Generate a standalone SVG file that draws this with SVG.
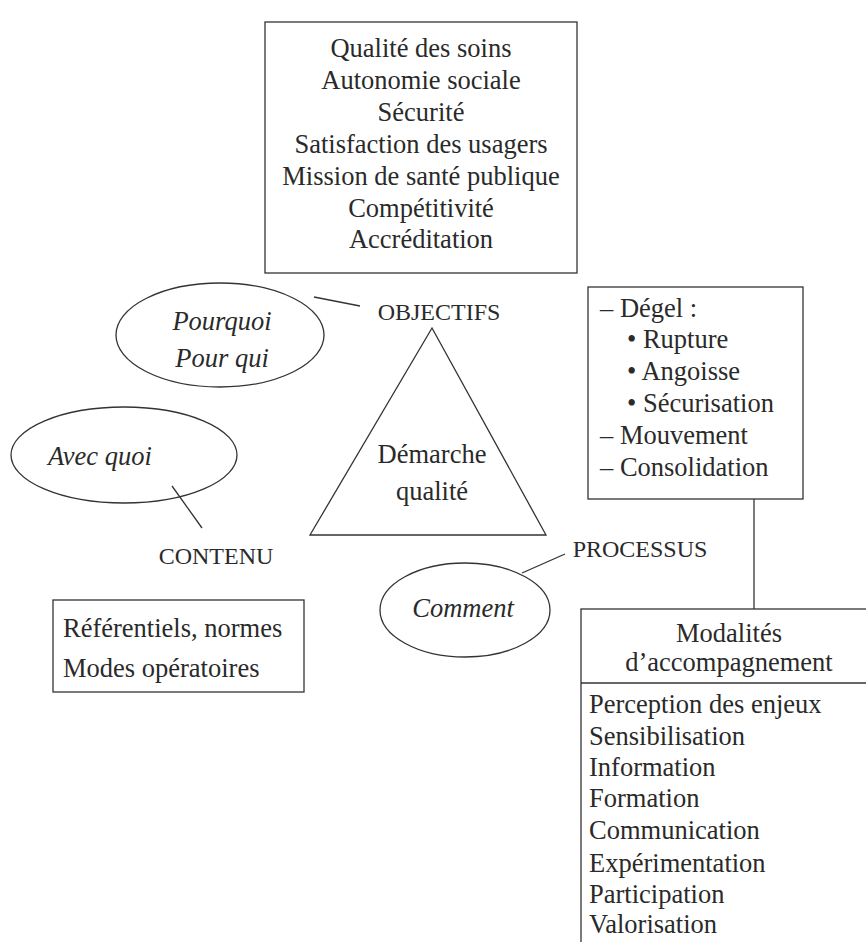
<svg xmlns="http://www.w3.org/2000/svg" width="866" height="942" viewBox="0 0 866 942">
<style>
text{font-family:"Liberation Serif","Times New Roman",serif;fill:#2a2a2a;font-size:26.5px}
.c{text-anchor:middle}
.i{font-style:italic}
.cap{font-size:24px}
.s{fill:none;stroke:#333;stroke-width:1.3}
</style>
<rect width="866" height="942" fill="#fff"/>
<g id="objectifs-box">
<rect class="s" x="265" y="22" width="312" height="251"/>
<text class="c" x="421" y="57">Qualité des soins</text>
<text class="c" x="421" y="89">Autonomie sociale</text>
<text class="c" x="421" y="121">Sécurité</text>
<text class="c" x="421" y="153">Satisfaction des usagers</text>
<text class="c" x="421" y="185">Mission de santé publique</text>
<text class="c" x="421" y="217">Compétitivité</text>
<text class="c" x="421" y="248">Accréditation</text>
</g>
<g id="objectifs"><text class="cap c" x="439" y="320">OBJECTIFS</text></g>
<g id="triangle">
<polygon class="s" points="432,328 310,535 546,535"/>
<text class="c" x="432" y="463">Démarche</text>
<text class="c" x="432" y="500">qualité</text>
</g>
<g id="pourquoi">
<ellipse class="s" cx="220" cy="335" rx="104" ry="52"/>
<text class="c i" x="222" y="330">Pourquoi</text>
<text class="c i" x="222" y="367">Pour qui</text>
</g>
<g id="avec-quoi">
<ellipse class="s" cx="124" cy="455" rx="113" ry="48"/>
<text class="i" x="48" y="465">Avec quoi</text>
</g>
<g id="contenu"><text class="cap c" x="216" y="564">CONTENU</text></g>
<g id="referentiels">
<rect class="s" x="53" y="600" width="251" height="92"/>
<text x="63" y="637">Référentiels, normes</text>
<text x="63" y="677">Modes opératoires</text>
</g>
<g id="processus"><text class="cap c" x="640" y="557">PROCESSUS</text></g>
<g id="comment">
<ellipse class="s" cx="465" cy="610" rx="85" ry="47"/>
<text class="c i" x="463" y="617">Comment</text>
</g>
<g id="degel">
<rect class="s" x="588" y="287" width="215" height="212"/>
<text x="600" y="317">– Dégel :</text>
<text x="627" y="348">• Rupture</text>
<text x="627" y="380">• Angoisse</text>
<text x="627" y="412">• Sécurisation</text>
<text x="600" y="444">– Mouvement</text>
<text x="600" y="476">– Consolidation</text>
</g>
<g id="modalites">
<rect class="s" x="581" y="609" width="300" height="350"/>
<line class="s" x1="581" y1="683" x2="866" y2="683"/>
<text class="c" x="729" y="642">Modalités</text>
<text class="c" x="729" y="671">d’accompagnement</text>
<text x="589" y="713">Perception des enjeux</text>
<text x="589" y="745">Sensibilisation</text>
<text x="589" y="776">Information</text>
<text x="589" y="807">Formation</text>
<text x="589" y="839">Communication</text>
<text x="589" y="872">Expérimentation</text>
<text x="589" y="903">Participation</text>
<text x="589" y="933">Valorisation</text>
</g>
<g id="connectors">
<line class="s" x1="314" y1="297" x2="360" y2="306"/>
<line class="s" x1="172" y1="486" x2="202" y2="528"/>
<line class="s" x1="522" y1="573" x2="565" y2="554"/>
<line class="s" x1="754" y1="499" x2="754" y2="609"/>
</g>
</svg>
